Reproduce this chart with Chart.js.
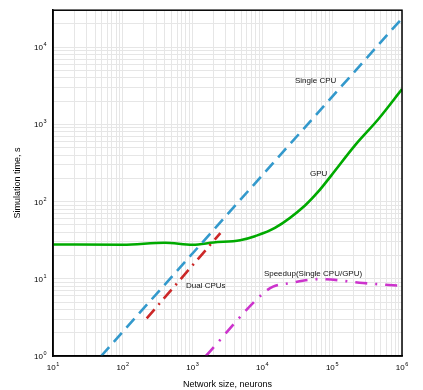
<!DOCTYPE html>
<html>
<head>
<meta charset="utf-8">
<script src="https://cdn.jsdelivr.net/npm/chart.js@4"></script>
<style>
  body { margin: 0; background: #fff; }
  #wrap { width: 423px; height: 390px; }
</style>
</head>
<body>
<div id="wrap"><canvas id="chart"></canvas></div>
<script>
// values (log-log)
const singleX = [49, 1e6];
const singleY = [1, 23500];
const dualX = [220, 2500];
const dualY = [3.07, 39];
const gpuX = [10, 100, 400, 1000, 2000, 4800, 7830, 15100, 40800, 63000, 98000, 212000, 460000, 1e6];
const gpuY = [27.8, 27.6, 29.3, 27.6, 29.5, 31.6, 35.6, 45.5, 89, 134, 220, 533, 1170, 2850];
const speedX = [1550, 10300, 14200, 25000, 67000, 277000, 1e6];
const speedY = [1, 6.5, 7.9, 8.8, 9.9, 8.8, 8.1];

const xDecades = [10, 100, 1000, 10000, 100000, 1000000];
const yDecades = [1, 10, 100, 1000, 10000];
const xMax = 1e6;
const yMax = 30000;

const seriesLabels = [
  { text: 'Single CPU', x: 29300, y: 3660 },
  { text: 'GPU', x: 48100, y: 231 },
  { text: 'Dual CPUs', x: 804, y: 8.13 },
  { text: 'Speedup(Single CPU/GPU)', x: 10500, y: 11.7 }
];

const FONT = '"Liberation Sans", Arial, sans-serif';

function pts(xs, ys) {
  return xs.map((v, i) => ({ x: v, y: ys[i] }));
}

function logTicks(decades, max) {
  const out = [];
  decades.forEach(d => {
    for (let m = 1; m <= 9; m++) if (m * d <= max) out.push(m * d);
  });
  if (out[out.length - 1] < max) out.push(max);
  return out;
}

// "10" with a small raised exponent
function drawPow(ctx, v, px, baseline, align) {
  const e = String(Math.round(Math.log10(v)));
  ctx.font = '8px ' + FONT;
  const wb = ctx.measureText('10').width;
  ctx.font = '5.5px ' + FONT;
  const we = ctx.measureText(e).width;
  const total = wb + 0.6 + we;
  const left = align === 'right' ? px - total : px - total / 2;
  ctx.font = '8px ' + FONT;
  ctx.fillText('10', left, baseline);
  ctx.font = '5.5px ' + FONT;
  ctx.fillText(e, left + wb + 0.6, baseline - 3.8);
}

const extras = {
  id: 'extras',
  afterDatasetsDraw(chart) {
    const { ctx, chartArea: a, scales: { x, y } } = chart;
    ctx.save();
    ctx.font = '8px ' + FONT;
    ctx.fillStyle = '#111';
    ctx.textBaseline = 'middle';
    seriesLabels.forEach(l => {
      ctx.fillText(l.text, x.getPixelForValue(l.x), y.getPixelForValue(l.y));
    });
    ctx.strokeStyle = '#000';
    ctx.lineWidth = 1.5;
    ctx.strokeRect(a.left, a.top, a.right - a.left, a.bottom - a.top);

    ctx.fillStyle = '#000';
    ctx.textBaseline = 'alphabetic';
    ctx.textAlign = 'left';
    xDecades.forEach(v => drawPow(ctx, v, x.getPixelForValue(v), a.bottom + 13.5, 'center'));
    yDecades.forEach(v => drawPow(ctx, v, a.left - 6.5, y.getPixelForValue(v) + 3, 'right'));
    ctx.restore();
  }
};

const line = (data, color, dash, extra) => Object.assign({
  data: data,
  borderColor: color,
  borderWidth: 2.6,
  borderDash: dash,
  pointRadius: 0,
  fill: false
}, extra || {});

new Chart(document.getElementById('chart').getContext('2d'), {
  type: 'line',
  data: {
    datasets: [
      line(pts(singleX, singleY), 'rgb(51,153,204)', [12, 7]),
      line(pts(dualX, dualY), 'rgb(204,40,40)', [12, 6, 2, 6]),
      line(pts(gpuX, gpuY), 'rgb(0,170,0)', [], { cubicInterpolationMode: 'monotone' }),
      line(pts(speedX, speedY), 'rgb(204,51,204)', [12, 8, 2, 8], { cubicInterpolationMode: 'monotone' })
    ]
  },
  options: {
    responsive: true,
    maintainAspectRatio: false,
    animation: false,
    layout: { padding: { left: 0, top: 7, right: 21, bottom: 0 } },
    plugins: { legend: { display: false }, tooltip: { enabled: false } },
    scales: {
      x: {
        type: 'logarithmic',
        min: 10,
        max: xMax,
        afterBuildTicks: s => { s.ticks = logTicks(xDecades, xMax).map(v => ({ value: v })); },
        afterFit: s => { s.height = 34; },
        grid: { color: '#e6e6e6', drawTicks: false },
        border: { color: '#000', width: 1.5 },
        ticks: { autoSkip: false, maxRotation: 0, callback: () => '' },
        title: {
          display: true, text: 'Network size, neurons', color: '#000',
          font: { family: FONT, size: 9 }, padding: { top: 1, bottom: 0 }
        }
      },
      y: {
        type: 'logarithmic',
        min: 1,
        max: yMax,
        afterBuildTicks: s => { s.ticks = logTicks(yDecades, yMax).map(v => ({ value: v })); },
        afterFit: s => { s.width = 53; },
        grid: { color: '#e6e6e6', drawTicks: false },
        border: { color: '#000', width: 1.5 },
        ticks: { autoSkip: false, callback: () => '' },
        title: {
          display: true, text: 'Simulation time, s', color: '#000',
          font: { family: FONT, size: 9 }, padding: { top: 12, bottom: 0 }
        }
      }
    }
  },
  plugins: [extras]
});
</script>
</body>
</html>
